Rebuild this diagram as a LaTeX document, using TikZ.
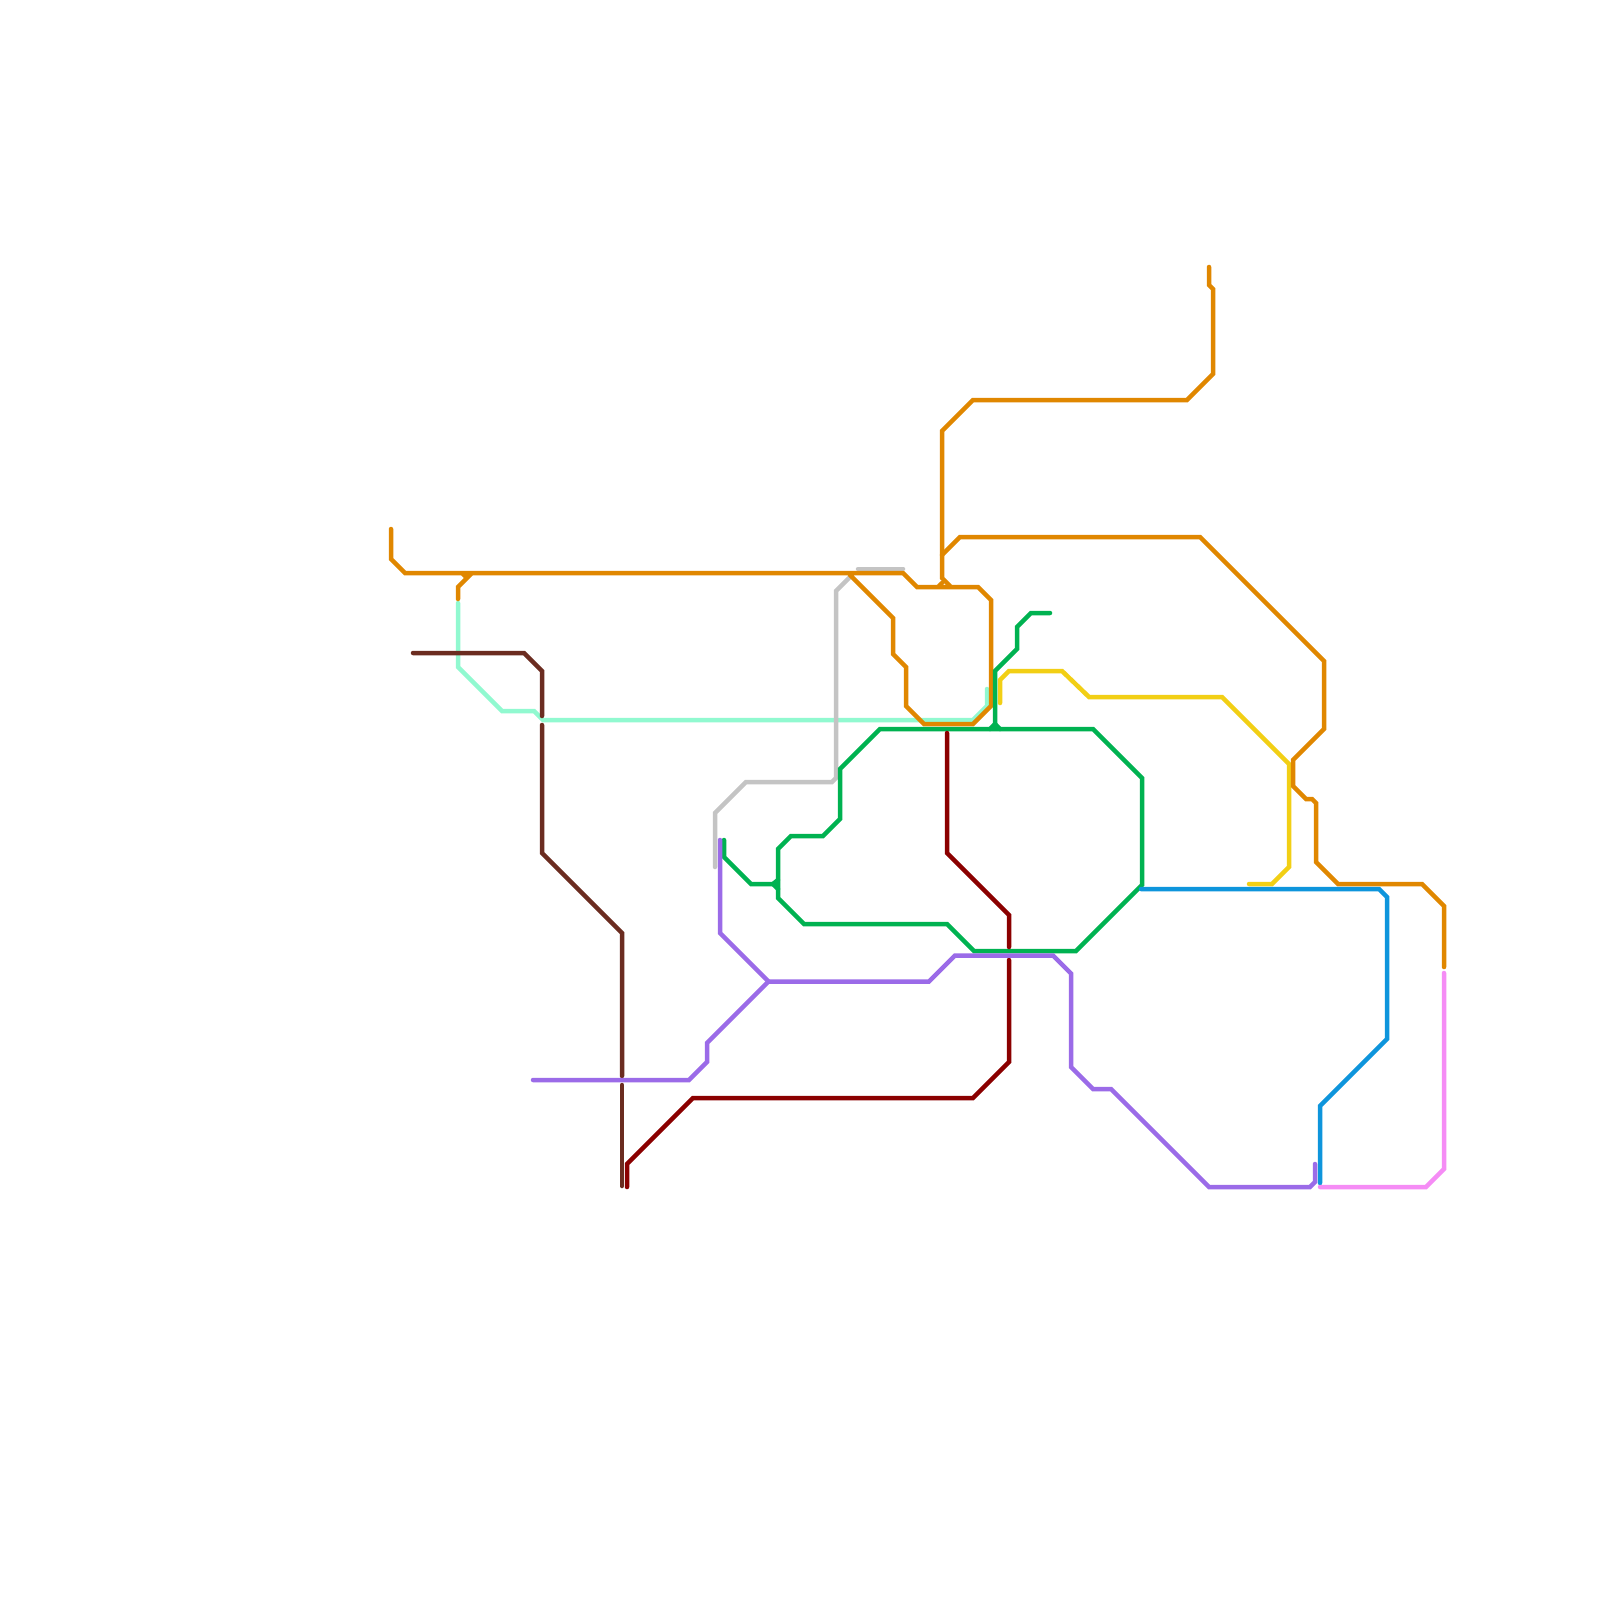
\documentclass[tikz,border=0pt]{standalone}
\definecolor{cOrange}{HTML}{E08700}
\definecolor{cMint}{HTML}{91F9D0}
\definecolor{cBrown}{HTML}{6B2C20}
\definecolor{cGrey}{HTML}{C4C4C4}
\definecolor{cGreen}{HTML}{00B251}
\definecolor{cPurple}{HTML}{9B6BE8}
\definecolor{cRed}{HTML}{8B0000}
\definecolor{cBlue}{HTML}{0E95DC}
\definecolor{cPink}{HTML}{F58CF5}
\definecolor{cYellow}{HTML}{F2CF15}
\tikzset{
  route/.style={line width=0.045cm,line cap=round,line join=miter,miter limit=10},
  mint/.style={route,draw=cMint},
  brownline/.style={route,draw=cBrown},
  greyline/.style={route,draw=cGrey},
  orangeline/.style={route,draw=cOrange},
  greenline/.style={route,draw=cGreen},
  purpleline/.style={route,draw=cPurple},
  redline/.style={route,draw=cRed},
  blueline/.style={route,draw=cBlue},
  pinkline/.style={route,draw=cPink},
  yellowline/.style={route,draw=cYellow}
}
\begin{document}
\begin{tikzpicture}[x=0.01cm,y=-0.01cm]
\useasboundingbox[fill=white] (0,0) rectangle (1600,1600);
% mint
\draw[mint] (458,603)--(458,667)--(502,711)--(534,711)--(543,720)--(973,720)--(987,706)--(987,689);
% grey
\draw[greyline] (858,569)--(903,569);
\draw[greyline] (851,576)--(836,591)--(836,778)--(832,782)--(746,782)--(715,813)--(715,867);
% yellow
\draw[yellowline] (1000,703)--(1000,680)--(1009,671)--(1062,671)--(1089,697)--(1222,697)--(1289,764)--(1289,867)--(1272,884)--(1249,884);
% brown
\draw[brownline] (413,653)--(524,653)--(542,671)--(542,716);
\draw[brownline] (542,725)--(542,853)--(622,933)--(622,1076);
\draw[brownline] (622,1085)--(622,1186);
% orange
\draw[orangeline] (391,529)--(391,559)--(405,573)--(903,573)--(917,587)--(978,587)--(991,600)--(991,706)--(973,724)--(924,724)--(906,706)--(906,667)--(893,654)--(893,618)--(852,577)--(850,575);
\draw[orangeline] (458,599)--(458,587)--(471,574);
\draw[orangeline] (463,574)--(466,577);
\draw[orangeline] (1209,267)--(1209,285)--(1213,289)--(1213,374)--(1187,400)--(973,400)--(942,431)--(942,578)--(950,586);
\draw[orangeline] (942,583)--(939,586);
\draw[orangeline] (942,555)--(960,537)--(1200,537)--(1324,661)--(1324,729)--(1293,760)--(1293,786)--(1306,799)--(1312,799)--(1316,803)--(1316,862)--(1338,884)--(1422,884)--(1444,906)--(1444,967);
% green
\draw[greenline] (1050,613)--(1031,613)--(1017,627)--(1017,649)--(995,671)--(995,724);
\draw[greenline] (995,724)--(1000,729);
\draw[greenline] (995,724)--(990,729);
\draw[greenline] (840,769)--(880,729)--(1093,729)--(1142,778)--(1142,885)--(1076,951)--(974,951)--(947,924)--(804,924)--(778,898)--(778,849)--(791,836)--(823,836)--(840,819)--cycle;
\draw[greenline] (724,840)--(724,857)--(751,884)--(773,884);
\draw[greenline] (773,884)--(778,880);
\draw[greenline] (773,884)--(778,889);
% dark red
\draw[redline] (947,733)--(947,853)--(1009,915)--(1009,947);
\draw[redline] (1009,960)--(1009,1062)--(973,1098)--(693,1098)--(627,1164)--(627,1187);
% purple
\draw[purpleline] (720,840)--(720,933)--(768.5,981.5)--(929,981.5)--(955,955.5)--(1053,955.5)--(1071,973.5)--(1071,1067)--(1093,1089)--(1111,1089)--(1209,1187)--(1310,1187)--(1315,1182)--(1315,1164);
\draw[purpleline] (768.5,981.5)--(707,1043)--(707,1062)--(689,1080)--(533,1080);
% blue
\draw[blueline] (1320,1183)--(1320,1106)--(1387,1039)--(1387,897)--(1379,889)--(1141,889);
% pink
\draw[pinkline] (1444,973)--(1444,1169)--(1426,1187)--(1320,1187);
\end{tikzpicture}
\end{document}
